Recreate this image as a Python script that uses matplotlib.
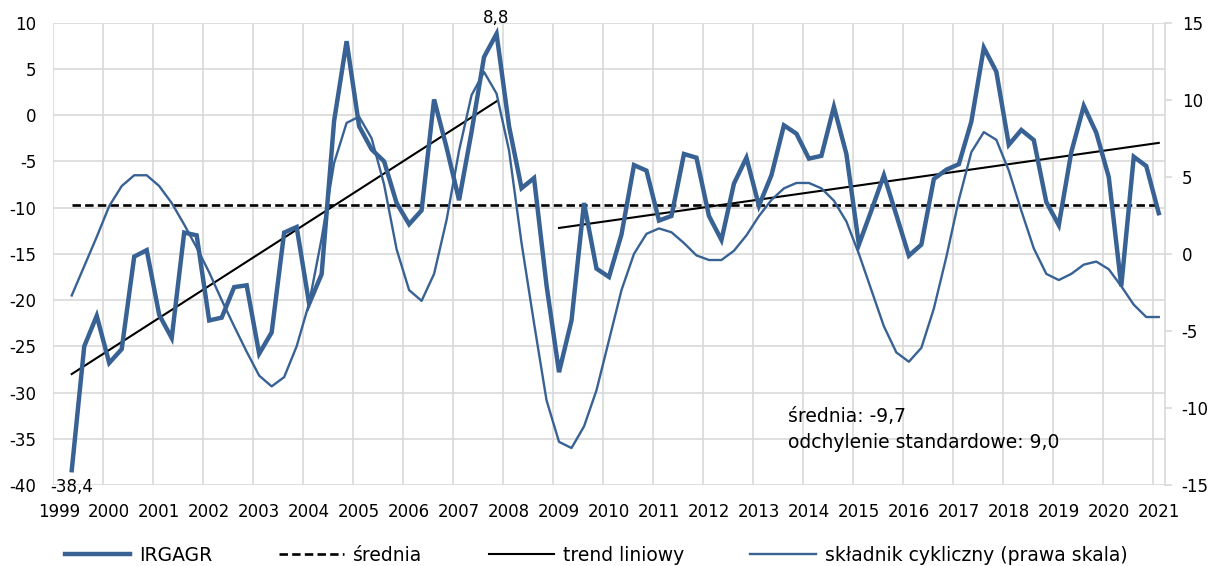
import matplotlib
matplotlib.use("Agg")
import matplotlib.pyplot as plt
from matplotlib.lines import Line2D
import numpy as np

plt.rcParams['font.family'] = ['DejaVu Sans']
plt.rcParams['axes.unicode_minus'] = False

# ---- data (quarterly, 1999Q1 .. 2021Q1; 1999Q1 has no value) ----
years = [str(y) for y in range(1999, 2022)]
quarters = [f"{y}Q{q}" for y in range(1999, 2022) for q in range(1, 5)][:89]

irgagr = [-38.4, -25.0, -21.7, -26.8, -25.3, -15.3, -14.6, -21.6, -24.1, -12.7,
          -13.0, -22.2, -21.9, -18.6, -18.4, -25.8, -23.5, -12.7, -12.1, -20.4,
          -17.2, -0.6, 8.0, -1.2, -3.7, -5.0, -9.5, -11.8, -10.3, 1.7,
          -3.5, -9.2, -1.8, 6.3, 8.8, -1.2, -7.9, -6.8, -18.4, -27.8,
          -22.2, -9.5, -16.6, -17.5, -12.9, -5.4, -6.0, -11.4, -10.9, -4.2,
          -4.6, -10.9, -13.5, -7.4, -4.6, -9.8, -6.5, -1.1, -2.0, -4.7,
          -4.4, 0.9, -4.2, -14.0, -10.3, -6.5, -10.8, -15.2, -14.0, -6.9,
          -5.9, -5.3, -0.7, 7.3, 4.7, -3.2, -1.6, -2.7, -9.4, -11.9,
          -4.0, 1.0, -1.9, -6.7, -18.5, -4.5, -5.5, -10.6]

cyclic = [-2.7, -0.8, 1.1, 3.1, 4.4, 5.1, 5.1, 4.4, 3.3, 1.9,
          0.4, -1.2, -3.0, -4.7, -6.35, -7.9, -8.6, -8.0, -6.0, -3.2,
          1.0, 5.9, 8.5, 8.9, 7.5, 4.5, 0.3, -2.35, -3.05, -1.3,
          2.2, 6.7, 10.3, 11.8, 10.4, 6.7, 0.7, -4.5, -9.5, -12.2,
          -12.6, -11.2, -8.85, -5.6, -2.35, 0.0, 1.3, 1.65, 1.4, 0.7,
          -0.1, -0.4, -0.4, 0.2, 1.2, 2.45, 3.5, 4.25, 4.6, 4.6,
          4.25, 3.45, 2.1, 0.0, -2.35, -4.7, -6.4, -7.0, -6.1, -3.55,
          -0.2, 3.5, 6.6, 7.9, 7.4, 5.4, 2.8, 0.35, -1.3, -1.7,
          -1.3, -0.7, -0.5, -1.0, -2.1, -3.3, -4.1, -4.1]

mean_value = -9.7
std_value = 9.0

# linear trend segments (start/end quarter, start/end value)
trend1_q = ["1999Q2", "2007Q4"]
trend1_v = [-28.0, 1.5]
trend2_q = ["2009Q1", "2021Q1"]
trend2_v = [-12.2, -3.0]

# ---- figure ----
W, H = 1211, 566
fig = plt.figure(figsize=(W / 100, H / 100), dpi=100)
ax = fig.add_axes([53 / W, 1 - 485 / H, (1165 - 53) / W, (485 - 22.7) / H])
ax2 = ax.twinx()

color = '#386294'
grid_c = '#D9D9D9'
fs_tick = 12
fs_text = 13.5

x = np.arange(1, 1 + len(irgagr))
qidx = {q: i for i, q in enumerate(quarters)}

ax.plot(x, irgagr, color=color, lw=3.2, solid_joinstyle='miter', zorder=5)
ax.plot(x, [mean_value] * len(x), color='black', lw=1.9, ls=(0, (3.2, 1.6)), zorder=4)
ax.plot([qidx[q] for q in trend1_q], trend1_v, color='black', lw=1.5, zorder=4)
ax.plot([qidx[q] for q in trend2_q], trend2_v, color='black', lw=1.5, zorder=4)
ax2.plot(x, cyclic, color=color, lw=1.7, zorder=3)

ax.set_xlim(-0.5, len(quarters) - 0.5)
ax.set_ylim(-40, 10)
ax2.set_ylim(-15, 15)

ax.set_yticks(np.arange(-40, 11, 5))
ax2.set_yticks(np.arange(-15, 16, 5))
ax.set_xticks(np.arange(0, len(quarters), 4))
ax.set_xticklabels(years)
ax.set_xticks(np.arange(-0.5, len(quarters), 4), minor=True)

ax.grid(True, axis='y', color=grid_c, lw=1.2)
ax.grid(True, axis='x', which='minor', color=grid_c, lw=1.2)
ax.set_axisbelow(True)

for a in (ax, ax2):
    for s in a.spines.values():
        s.set_visible(False)
ax2.spines['right'].set_visible(True)
ax2.spines['right'].set_color(grid_c)
ax2.spines['right'].set_linewidth(1.2)

ax.tick_params(axis='y', length=0, pad=12, labelsize=fs_tick)
ax.tick_params(axis='x', which='both', length=0, pad=13, labelsize=fs_tick)
ax2.tick_params(axis='y', length=5, width=1.2, color=grid_c, pad=7, labelsize=fs_tick)

# annotations
ax.text(qidx["2007Q4"], 10.5, "8,8", ha='center', va='center', fontsize=fs_tick, clip_on=False)
ax.text(qidx["1999Q2"], -40.2, "-38,4", ha='center', va='center', fontsize=fs_tick, clip_on=False)
ax.text(58.3, -32.6, f"średnia: {mean_value:.1f}".replace('.', ','), ha='left', va='center',
        fontsize=fs_text)
ax.text(58.3, -35.4, f"odchylenie standardowe: {std_value:.1f}".replace('.', ','), ha='left',
        va='center', fontsize=fs_text)

handles = [Line2D([], [], color=color, lw=3.2),
           Line2D([], [], color='black', lw=1.9, ls=(0, (3.2, 1.6))),
           Line2D([], [], color='black', lw=1.5),
           Line2D([], [], color=color, lw=1.7)]
labels = ["IRGAGR", "średnia", "trend liniowy", "składnik cykliczny (prawa skala)"]
fig.legend(handles, labels, loc='center', bbox_to_anchor=(596 / W, 1 - 555.5 / H), ncol=4,
           frameon=False, fontsize=fs_text, handlelength=3.5, handletextpad=0.45,
           columnspacing=3.55, borderpad=0)

fig.savefig("out.png", dpi=100)
